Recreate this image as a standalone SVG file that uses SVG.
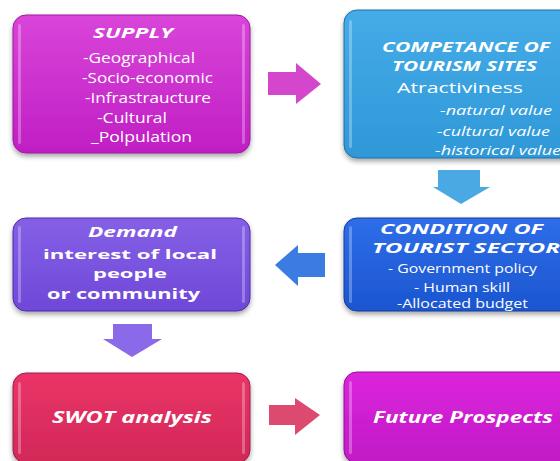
<svg xmlns="http://www.w3.org/2000/svg" width="560" height="461" viewBox="0 0 560 461">
<style>
  text { fill: #ffffff; font-family: "Open Sans", "Liberation Sans", sans-serif; }
  .h { font-weight: bold; font-style: italic; }
  .b { font-weight: bold; }
  .i { font-style: italic; }
  .box { filter: url(#sh); }
  .hl { fill: #ffffff; opacity: 0.28; }
</style>
<defs>
  <filter id="sh" x="-10%" y="-10%" width="120%" height="130%">
    <feDropShadow dx="0" dy="3" stdDeviation="2.5" flood-color="#000" flood-opacity="0.35"/>
  </filter>
  <linearGradient id="gSup" x1="0" y1="0" x2="0" y2="1">
    <stop offset="0" stop-color="#d945d9"/><stop offset="1" stop-color="#c01ec4"/>
  </linearGradient>
  <linearGradient id="gComp" x1="0" y1="0" x2="0" y2="1">
    <stop offset="0" stop-color="#45ace8"/><stop offset="1" stop-color="#2f98d8"/>
  </linearGradient>
  <linearGradient id="gCond" x1="0" y1="0" x2="0" y2="1">
    <stop offset="0" stop-color="#2e6ee8"/><stop offset="1" stop-color="#1b55d0"/>
  </linearGradient>
  <linearGradient id="gDem" x1="0" y1="0" x2="0" y2="1">
    <stop offset="0" stop-color="#8560e6"/><stop offset="1" stop-color="#6f48d8"/>
  </linearGradient>
  <linearGradient id="gSwot" x1="0" y1="0" x2="0" y2="1">
    <stop offset="0" stop-color="#ea3468"/><stop offset="1" stop-color="#d22858"/>
  </linearGradient>
  <linearGradient id="gFut" x1="0" y1="0" x2="0" y2="1">
    <stop offset="0" stop-color="#dc24dc"/><stop offset="1" stop-color="#c01ac6"/>
  </linearGradient>
</defs>
<rect width="560" height="461" fill="#ffffff"/>

<g id="connectors">
  <polygon points="268,72 296,72 296,63 321,84 296,104 296,95 268,95" fill="#d447cc"/>
  <polygon points="438,170 480,170 480,187 490,187 461,204 433,187 438,187" fill="#4aa8e2"/>
  <polygon points="325,253 298,253 298,245 275,265 298,286 298,277 325,277" fill="#3a7ce2"/>
  <polygon points="113,324 152,324 152,339 162,339 132,357 103,339 113,339" fill="#8a6ae8"/>
  <polygon points="269,405 295,405 295,398 320,415 295,435 295,425 269,425" fill="#dc4a70"/>
</g>

<g id="supply">
  <rect class="box" x="13" y="15" width="237" height="138" rx="13" fill="url(#gSup)" stroke="#9a1d9a" stroke-width="1"/>
  <rect class="hl" x="18" y="24" width="3" height="120" rx="1.5"/>
  <rect class="hl" x="242" y="24" width="3" height="120" rx="1.5"/>
  <text class="h" x="93" y="38" font-size="15" textLength="80" lengthAdjust="spacingAndGlyphs">SUPPLY</text>
  <text x="83" y="63" font-size="14" textLength="112" lengthAdjust="spacingAndGlyphs">-Geographical</text>
  <text x="82" y="83" font-size="14" textLength="131" lengthAdjust="spacingAndGlyphs">-Socio-economic</text>
  <text x="85" y="103" font-size="14" textLength="126" lengthAdjust="spacingAndGlyphs">-Infrastraucture</text>
  <text x="97" y="123" font-size="14" textLength="70" lengthAdjust="spacingAndGlyphs">-Cultural</text>
  <text x="91" y="142" font-size="14" textLength="101" lengthAdjust="spacingAndGlyphs">_Polpulation</text>
</g>

<g id="competance">
  <rect class="box" x="344" y="10" width="240" height="148" rx="13" fill="url(#gComp)" stroke="#1f6ea6" stroke-width="1"/>
  <rect class="hl" x="349" y="20" width="3" height="128" rx="1.5"/>
  <text class="h" x="382" y="52" font-size="14" textLength="168" lengthAdjust="spacingAndGlyphs">COMPETANCE OF</text>
  <text class="h" x="392" y="71" font-size="14" textLength="145" lengthAdjust="spacingAndGlyphs">TOURISM SITES</text>
  <text x="397" y="93" font-size="15" textLength="126" lengthAdjust="spacingAndGlyphs">Atractiviness</text>
  <text class="i" x="440" y="115" font-size="13" textLength="112" lengthAdjust="spacingAndGlyphs">-natural value</text>
  <text class="i" x="437" y="136" font-size="13" textLength="113" lengthAdjust="spacingAndGlyphs">-cultural value</text>
  <text class="i" x="435" y="155" font-size="13" textLength="126" lengthAdjust="spacingAndGlyphs">-historical value</text>
</g>

<g id="condition">
  <rect class="box" x="344" y="218" width="240" height="93" rx="13" fill="url(#gCond)" stroke="#173f96" stroke-width="1"/>
  <rect class="hl" x="349" y="226" width="3" height="77" rx="1.5"/>
  <text class="h" x="380" y="234" font-size="14" textLength="163" lengthAdjust="spacingAndGlyphs">CONDITION OF</text>
  <text class="h" x="372" y="253" font-size="14" textLength="188" lengthAdjust="spacingAndGlyphs">TOURIST SECTOR</text>
  <text x="388" y="273" font-size="12" textLength="149" lengthAdjust="spacingAndGlyphs">- Government policy</text>
  <text x="414" y="292" font-size="12" textLength="96" lengthAdjust="spacingAndGlyphs">- Human skill</text>
  <text x="397" y="308" font-size="12" textLength="131" lengthAdjust="spacingAndGlyphs">-Allocated budget</text>
</g>

<g id="demand">
  <rect class="box" x="13" y="218" width="237" height="93" rx="13" fill="url(#gDem)" stroke="#4d2fa8" stroke-width="1"/>
  <rect class="hl" x="18" y="226" width="3" height="77" rx="1.5"/>
  <rect class="hl" x="242" y="226" width="3" height="77" rx="1.5"/>
  <text class="h" x="88" y="237" font-size="14" textLength="89" lengthAdjust="spacingAndGlyphs">Demand</text>
  <text class="b" x="43" y="259" font-size="13" textLength="174" lengthAdjust="spacingAndGlyphs">interest of local</text>
  <text class="b" x="93" y="278" font-size="13" textLength="74" lengthAdjust="spacingAndGlyphs">people</text>
  <text class="b" x="47" y="299" font-size="14" textLength="153" lengthAdjust="spacingAndGlyphs">or  community</text>
</g>

<g id="swot">
  <rect class="box" x="13" y="373" width="237" height="90" rx="13" fill="url(#gSwot)" stroke="#9a2048" stroke-width="1"/>
  <rect class="hl" x="18" y="382" width="3" height="72" rx="1.5"/>
  <rect class="hl" x="242" y="382" width="3" height="72" rx="1.5"/>
  <text class="h" x="52" y="423" font-size="16" textLength="160" lengthAdjust="spacingAndGlyphs">SWOT analysis</text>
</g>

<g id="future">
  <rect class="box" x="344" y="372" width="240" height="91" rx="13" fill="url(#gFut)" stroke="#8d1293" stroke-width="1"/>
  <rect class="hl" x="349" y="381" width="3" height="73" rx="1.5"/>
  <text class="h" x="373" y="423" font-size="16" textLength="180" lengthAdjust="spacingAndGlyphs">Future Prospects</text>
</g>
</svg>
